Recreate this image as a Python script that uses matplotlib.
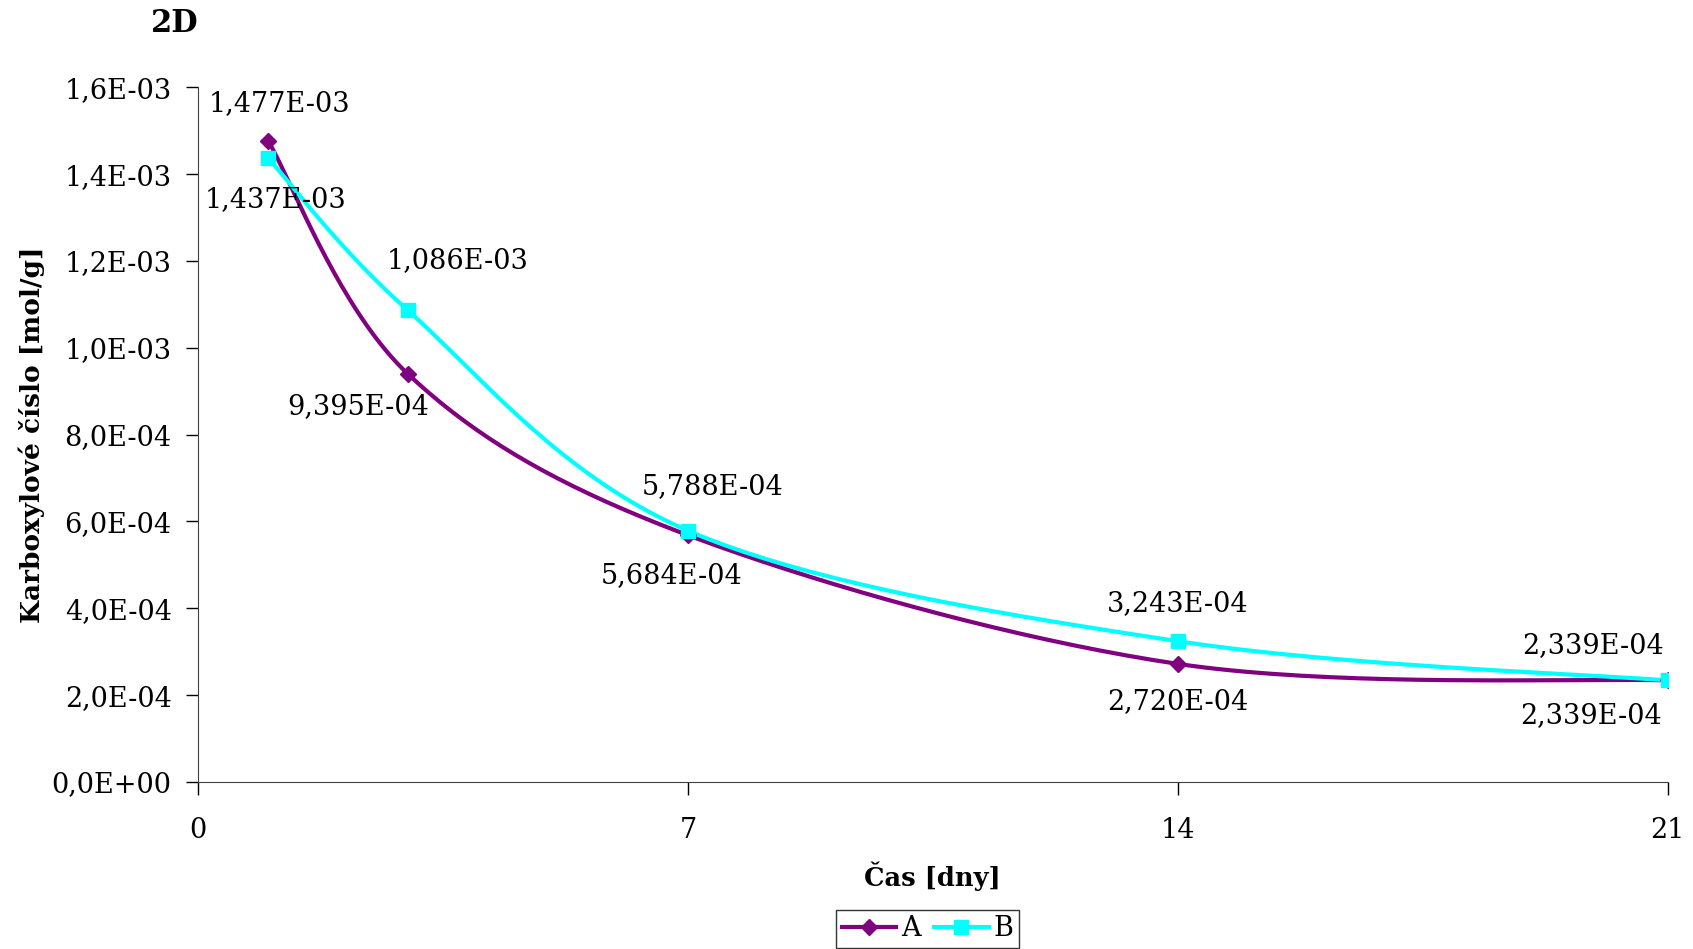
import matplotlib
matplotlib.use("Agg")
import matplotlib.pyplot as plt
from matplotlib.ticker import FuncFormatter
from matplotlib.lines import Line2D
import numpy as np

# data
days = [1, 3, 7, 14, 21]
series_a = [1.477e-3, 9.395e-4, 5.684e-4, 2.720e-4, 2.339e-4]
series_b = [1.437e-3, 1.086e-3, 5.788e-4, 3.243e-4, 2.339e-4]
x_ticks = [0, 7, 14, 21]
y_ticks = [0, 2e-4, 4e-4, 6e-4, 8e-4, 1e-3, 1.2e-3, 1.4e-3, 1.6e-3]

# label offsets in pixels (dx, dy), y up
offs_a = [(11, 37), (-50, -32), (-16, -40), (0, -38), (-77, -35)]
offs_b = [(8, -41), (50, 50), (25, 44), (0, 38), (-75, 35)]

plt.rcParams['font.family'] = ['DejaVu Serif']
FS = 19.5


def smooth(xs, ys, n=40):
    # excel-like smoothed line: bezier segments with catmull-rom style controls
    xs = np.asarray(xs, float)
    ys = np.asarray(ys, float)
    px = np.concatenate([[xs[0]], xs, [xs[-1]]])
    py = np.concatenate([[ys[0]], ys, [ys[-1]]])
    outx, outy = [], []
    t = np.linspace(0, 1, n)
    for i in range(1, len(px) - 2):
        p0 = np.array([px[i], py[i]])
        p3 = np.array([px[i + 1], py[i + 1]])
        p1 = p0 + (np.array([px[i + 1], py[i + 1]]) - np.array([px[i - 1], py[i - 1]])) / 6
        p2 = p3 - (np.array([px[i + 2], py[i + 2]]) - np.array([px[i], py[i]])) / 6
        b = ((1 - t) ** 3)[:, None] * p0 + (3 * (1 - t) ** 2 * t)[:, None] * p1 \
            + (3 * (1 - t) * t ** 2)[:, None] * p2 + (t ** 3)[:, None] * p3
        outx.extend(b[:, 0])
        outy.extend(b[:, 1])
    return outx, outy


fig = plt.figure(figsize=(16.93, 9.49), dpi=100)
ax = fig.add_axes([0.117, 0.176, 0.868, 0.732])

col_a = "#800080"
col_b = "#00FFFF"

sx, sy = smooth(days, series_a)
ax.plot(sx, sy, color=col_a, lw=3, zorder=3)
ax.plot(days, series_a, "D", color=col_a, ms=8, zorder=4)
sx, sy = smooth(days, series_b)
ax.plot(sx, sy, color=col_b, lw=3, zorder=3)
ax.plot(days, series_b, "s", color=col_b, ms=10, zorder=4)

fmt = lambda v: f"{v:.3E}".replace(".", ",")
for x, y, o in zip(days, series_a, offs_a):
    ax.annotate(fmt(y), (x, y), xytext=o, textcoords="offset pixels",
                ha="center", va="center", fontsize=FS, zorder=5)
for x, y, o in zip(days, series_b, offs_b):
    ax.annotate(fmt(y), (x, y), xytext=o, textcoords="offset pixels",
                ha="center", va="center", fontsize=FS, zorder=5)

ax.set_xlim(0, 21)
ax.set_ylim(0, 1.6e-3)
ax.set_xticks(x_ticks)
ax.set_yticks(y_ticks)
ax.yaxis.set_major_formatter(FuncFormatter(lambda v, p: f"{v:.1E}".replace(".", ",")))
ax.tick_params(labelsize=FS, direction="out", length=9, width=1, pad=10)
ax.tick_params(axis="x", pad=16)
for s in ["top", "right"]:
    ax.spines[s].set_visible(False)
for s in ["left", "bottom"]:
    ax.spines[s].set_color("#404040")

ax.set_xlabel("Čas [dny]", fontsize=18.5, fontweight="bold", labelpad=13)
ax.set_ylabel("Karboxylové číslo [mol/g]", fontsize=19, fontweight="bold", labelpad=5)
fig.text(0.103, 0.975, "2D", fontsize=22, fontweight="bold", ha="center", va="center")

handles = [Line2D([], [], color=col_a, lw=3, marker="D", ms=8),
           Line2D([], [], color=col_b, lw=3, marker="s", ms=10)]
fig.legend(handles, ["A", "B"], loc="center", bbox_to_anchor=(0.548, 0.0215),
           ncol=2, fontsize=FS, frameon=True, fancybox=False, edgecolor="black",
           handlelength=2.0, handletextpad=0.2, columnspacing=0.5,
           borderpad=0.2)

fig.savefig("out.png", dpi=100)
